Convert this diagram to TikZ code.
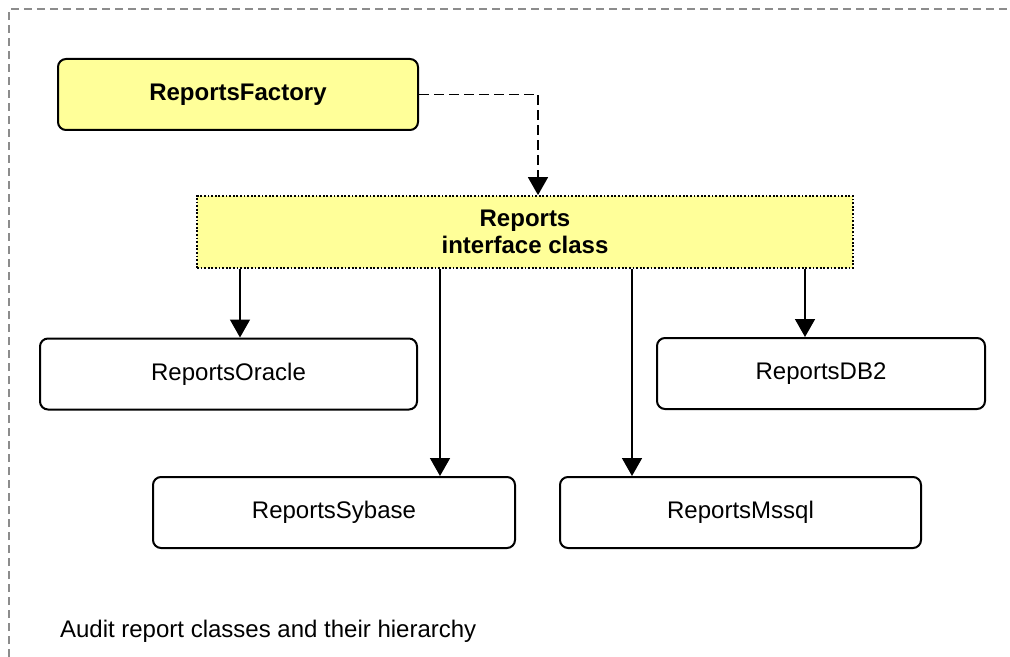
\documentclass[tikz,border=0pt]{standalone}
\usepackage{fontspec}
\setmainfont{Liberation Sans}
\usetikzlibrary{arrows.meta}
\definecolor{noteyellow}{RGB}{255,255,153}
\definecolor{framegray}{RGB}{140,140,140}

\begin{document}
\begin{tikzpicture}[x=0.5pt,y=-0.5pt,>={Triangle[length=9pt,width=10pt]}]
	\tikzstyle{classbox}=[draw,line width=1pt,rounded corners=4pt,minimum height=35.5pt,font=\fontsize{12}{14}\selectfont]
	
	\tikzstyle{factorybox}=[classbox,fill=noteyellow,font=\fontsize{12}{14}\selectfont\bfseries]
	\tikzstyle{ifacebox}=[draw,line width=0.9pt,dash pattern=on 0.9pt off 0.9pt,fill=noteyellow,align=center,minimum height=36pt,font=\fontsize{12}{13.5}\selectfont\bfseries]
	\tikzstyle{link}=[line width=0.8pt]
	
	\useasboundingbox (0,0) rectangle (1010,657);
	\draw[framegray,line width=1pt,dash pattern=on 4pt off 2.5pt] (9,657) -- (9,9) -- (1010,9);
	
	\node[factorybox,minimum width=180pt](factory) at (238,94.5){ReportsFactory};
	\node[ifacebox,minimum width=328pt](reports) at (525,232){Reports\\interface class};
	
	\node[classbox,minimum width=188.5pt](oracle) at (228.5,374){ReportsOracle};
	\node[classbox,minimum width=164pt](db2) at (821,373.5){ReportsDB2};
	\node[classbox,minimum width=181pt](sybase) at (334,512.5){ReportsSybase};
	\node[classbox,minimum width=180.5pt](mssql) at (740.5,512.5){ReportsMssql};
	
	\node[anchor=base west,font=\fontsize{12}{14}\selectfont](caption) at (53,637){Audit report classes and their hierarchy};
	
	\draw[->,link,dash pattern=on 5pt off 2.5pt] (factory.east) -| ([xshift=6.5pt]reports.north);
	
	\draw[->,link] ([xshift=5.75pt]oracle.north |- reports.south) -- ([xshift=5.75pt]oracle.north);
	\draw[->,link] ([xshift=53pt]sybase.north |- reports.south) -- ([xshift=53pt]sybase.north);
	\draw[->,link] ([xshift=-54.25pt]mssql.north |- reports.south) -- ([xshift=-54.25pt]mssql.north);
	\draw[->,link] ([xshift=-8pt]db2.north |- reports.south) -- ([xshift=-8pt]db2.north);
	
\end{tikzpicture}
\end{document}
